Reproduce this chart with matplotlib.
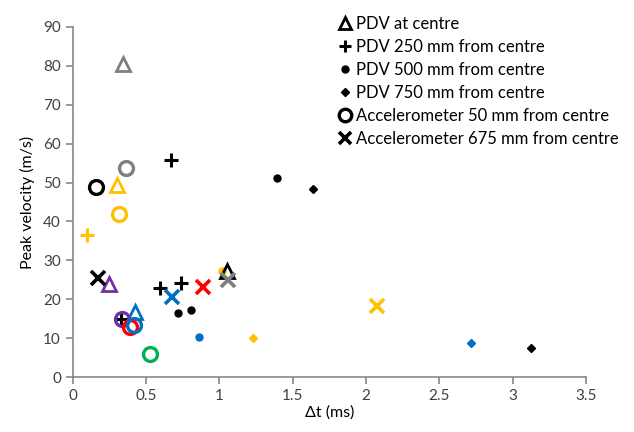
import matplotlib
matplotlib.use('agg')
import matplotlib.pyplot as plt
from matplotlib.lines import Line2D

plt.rcParams['font.family'] = ['Lato', 'DejaVu Sans']

GRAY = '#7f7f7f'
YELLOW = '#ffc000'
BLUE = '#0070c0'
RED = '#ff0000'
GREEN = '#00b050'
PURPLE = '#7030a0'
BLACK = '#000000'

# PDV at centre (open triangles)
tri_x = [0.34, 0.305, 0.245, 0.425, 1.05]
tri_y = [80.5, 49.3, 23.8, 16.8, 27.2]
tri_c = [GRAY, YELLOW, PURPLE, BLUE, BLACK]

# PDV 250 mm from centre (plus)
plus_x = [0.67, 0.095, 0.595, 0.74, 0.33]
plus_y = [55.7, 36.6, 22.8, 24.1, 14.8]
plus_c = [BLACK, YELLOW, BLACK, BLACK, BLACK]

# PDV 500 mm from centre (dots)
dot_x = [1.39, 0.716, 0.806, 1.016, 0.861]
dot_y = [51.3, 16.4, 17.2, 27.3, 10.4]
dot_c = [BLACK, BLACK, BLACK, YELLOW, BLUE]

# PDV 750 mm from centre (diamonds)
dia_x = [1.64, 1.232, 2.715, 3.124]
dia_y = [48.3, 10.0, 8.7, 7.5]
dia_c = [BLACK, YELLOW, BLUE, BLACK]

# Accelerometer 50 mm from centre (open circles)
circ_x = [0.363, 0.157, 0.318, 0.338, 0.39, 0.418, 0.527]
circ_y = [53.7, 48.9, 42.0, 14.8, 12.9, 13.3, 5.9]
circ_c = [GRAY, BLACK, YELLOW, PURPLE, RED, BLUE, GREEN]

# Accelerometer 675 mm from centre (crosses)
x_x = [0.17, 0.68, 0.89, 1.056, 2.074]
x_y = [25.4, 20.5, 23.2, 25.0, 18.3]
x_c = [BLACK, BLUE, RED, GRAY, YELLOW]

labels = ["PDV at centre", "PDV 250 mm from centre", "PDV 500 mm from centre",
          "PDV 750 mm from centre", "Accelerometer 50 mm from centre",
          "Accelerometer 675 mm from centre"]

fig = plt.figure(figsize=(6.34, 4.32), dpi=100)
ax = fig.add_axes([0.1147, 0.1273, 0.8096, 0.8102])

for x, y, c in zip(plus_x, plus_y, plus_c):
    ax.plot(x, y, '+', ms=10, mec=c, mew=2.2)
for x, y, c in zip(dot_x, dot_y, dot_c):
    ax.plot(x, y, 'o', ms=5, mfc=c, mec=c)
for x, y, c in zip(tri_x, tri_y, tri_c):
    ax.plot(x, y, '^', ms=10, mfc='none', mec=c, mew=2.0)
for x, y, c in zip(dia_x, dia_y, dia_c):
    ax.plot(x, y, 'D', ms=4.5, mfc=c, mec=c)
for x, y, c in zip(circ_x, circ_y, circ_c):
    ax.plot(x, y, 'o', ms=10, mfc='none', mec=c, mew=2.4)
for x, y, c in zip(x_x, x_y, x_c):
    ax.plot(x, y, 'x', ms=10, mec=c, mew=2.6)

handles = [
    Line2D([], [], ls='none', marker='^', ms=9, mfc='none', mec=BLACK, mew=2.0),
    Line2D([], [], ls='none', marker='+', ms=9, mec=BLACK, mew=2.2),
    Line2D([], [], ls='none', marker='o', ms=5, mfc=BLACK, mec=BLACK),
    Line2D([], [], ls='none', marker='D', ms=4.5, mfc=BLACK, mec=BLACK),
    Line2D([], [], ls='none', marker='o', ms=9, mfc='none', mec=BLACK, mew=2.4),
    Line2D([], [], ls='none', marker='x', ms=9, mec=BLACK, mew=2.6),
]
ax.legend(handles, labels, loc='upper left', bbox_to_anchor=(0.52, 0.982),
          bbox_transform=fig.transFigure, frameon=False, fontsize=12,
          handlelength=0.8, handletextpad=0.3, labelspacing=0.42, borderpad=0)

ax.set_xlim(0, 3.5)
ax.set_ylim(0, 90)
ax.set_xticks([0, 0.5, 1, 1.5, 2, 2.5, 3, 3.5])
ax.set_xticklabels(['0', '0.5', '1', '1.5', '2', '2.5', '3', '3.5'])
ax.set_yticks(range(0, 91, 10))
ax.set_xlabel("Δt (ms)", fontsize=11.5, labelpad=2)
ax.set_ylabel("Peak velocity (m/s)", fontsize=11.5, labelpad=6)

for s in ['top', 'right']:
    ax.spines[s].set_visible(False)
for s in ['left', 'bottom']:
    ax.spines[s].set_color('#868686')
    ax.spines[s].set_linewidth(1.2)
ax.tick_params(direction='out', length=5, width=1.2, color='#868686',
               labelsize=11, labelcolor='#404040')

fig.savefig('out.png', dpi=100)
plt.close(fig)
